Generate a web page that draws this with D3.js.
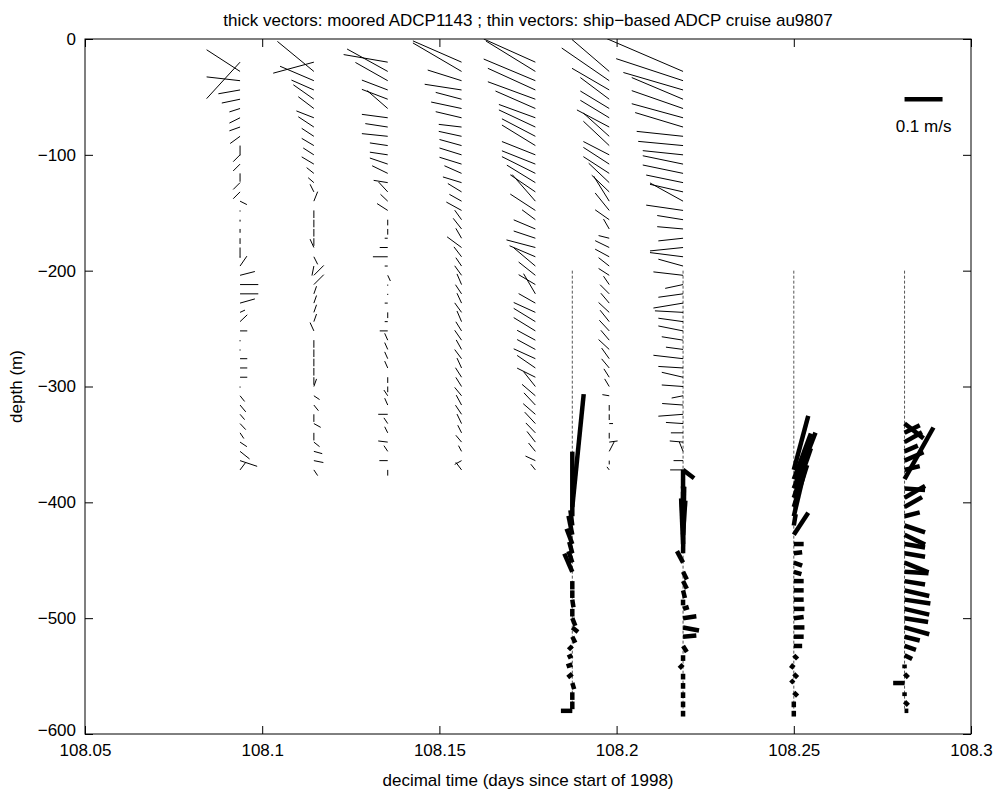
<!DOCTYPE html>
<html>
<head>
<meta charset="utf-8">
<script src="https://cdn.jsdelivr.net/npm/d3@7"></script>
<style>
  body { margin: 0; background: #fff; }
  text { font-family: "Liberation Sans", Arial, sans-serif; }
</style>
</head>
<body>
<div id="chart"></div>
<script>
// ship-based ADCP profiles (thin vectors), [u, v] in cm/s, one per depth bin
const shipTimes = [108.09375, 108.11458, 108.13542, 108.15625, 108.17708, 108.19792, 108.21875];
const shipDepths = [12, 20, 28, 36, 44, 52, 60, 68, 76, 84, 92, 100, 108, 116, 124, 132, 140, 148, 156, 164,
  172, 180, 188, 196, 204, 212, 220, 228, 236, 244, 252, 260, 268, 276, 284, 292, 300, 308, 316, 324,
  332, 340, 348, 356, 364, 372];

const ship1 = [null, [-8.8,-9.6], [-8.8,5.7], [-8.8,1.0], [-5.7,-1.0], [-4.8,-1.0], [-2.8,-0.9], [-2.8,-1.4], [-2.8,-1.0], [-2.6,-1.9],
  [0,-2.6], [-1.8,-1.8], [-1.8,-1.8], [0,-2.2], [-1.8,-1.8], [-1.8,-1.8], [1.8,-0.9], [0,-0.3], [0,-0.5], [0,-1],
  [0,-1.5], [0,-2.5], [0,-0.3], [1.8,2.6], [3.9,1.0], [4.8,0], [4.8,0], [3.9,1.1], [1.3,0.6], [1.9,1.8],
  [1.9,0], [0,-0.3], [0,-0.3], [1.9,0], [1.9,0], [1.9,0], [0,-0.3], [1.2,-1.5], [1.5,-1.8], [1.2,-1.4],
  [1.5,-1.6], [1.0,-1.5], [1.8,-1.2], [2.5,-2.0], [4.5,-1.5], [1.5,2.0]];
const ship2 = [null, [-10.7,-2.9], [-9.6,7.9], [-8.9,3.8], [-5.9,2.6], [-5.4,3.8], [-4.1,3.1], [-4.6,1.8], [-4.1,2.7], [-3.2,2.1],
  [-3.2,1.9], [-2.8,1.8], [-3.2,1.9], [-1.9,1.5], [-1.5,1.3], [-1.0,2.0], [1.0,2.5], [0,-2], [0,-2], [0,-2],
  [0,-2], [-1.0,2.2], [1.0,-2.0], [-0.5,-2.5], [2.6,2.6], [2.6,2.6], [0.7,2], [0.7,2], [0.7,2], [0.7,2],
  [-1.0,2.2], [0,-2], [0,-2], [0,-2], [0,-2], [0,-2], [0.7,2], [1.5,-1.0], [1.2,-1.5], [0,-2],
  [1.8,-1.0], [0,-2], [1.5,-1.2], [2.2,-0.6], [2.5,-0.5], [1.0,-1.5]];
const ship3 = [null, [-11.6,2.0], [-10.7,5.9], [-8.5,4.8], [-6.8,2.6], [-6.8,2.6], [-5.4,4.7], [-6.8,0.9], [-5.9,0.9], [-6.8,0.7],
  [-4.7,0.7], [-4.7,0.7], [-4.7,1.6], [-4.1,2.0], [-3.7,0.6], [-2.4,2.6], [-1.9,1.8], [-2.8,1.8], [0,-1.5], [0,-1.5],
  [-0.8,0], [-2.1,0], [-3.9,0], [-0.8,0], [0.7,-1.5], [0,-0.3], [0,-0.3], [-0.8,0], [0,-1.5], [-0.8,0],
  [-2.1,0], [-0.8,1.8], [-0.8,1.8], [-0.8,1.8], [-0.8,1.8], [0,-1.5], [0,-1.5], [-1.0,1.5], [-0.8,1.8], [-2.5,0],
  [-1.0,1.5], [-0.8,1.6], [-2.5,0.3], [-1.0,1.5], [-2.2,0], [0,-1.5]];
const ship4 = [null, [-12.8,5.6], [-12.8,7.5], [-8.9,2.8], [-9.7,1.5], [-6.8,1.8], [-8.0,1.7], [-6.8,1.6], [-6.0,0.7], [-6.0,1.3],
  [-5.8,1.6], [-5.8,1.8], [-5.8,1.8], [-4.5,2.0], [-4.9,1.5], [-3.6,2.2], [-3.2,1.8], [-4.0,2.2], [-1.8,2.5], [-2.2,2.8],
  [-1.5,2.6], [-3.8,2.8], [-2.0,2.6], [-1.5,2.2], [-1.8,2.5], [-1.2,2.8], [-1.6,2.4], [-1.2,2.6], [-1.8,2.5], [-1.2,2.8],
  [-1.5,2.4], [-1.8,2.6], [-1.4,2.5], [-1.8,2.4], [-1.2,2.6], [-1.6,2.5], [-1.5,2.4], [-1.8,2.2], [-1.4,2.6], [-1.6,2.4],
  [-1.2,2.5], [-1.0,2.0], [-1.5,1.8], [-0.8,1.5], [-1.8,-1.0], [-1.5,2.0]];
const ship5 = [null, [-13.6,6.1], [-13.0,8.0], [-13.6,5.7], [-12.5,5.7], [-12.5,4.6], [-10.5,4.6], [-9.6,3.5], [-9.6,4.5], [-8.8,4.6],
  [-8.8,5.4], [-8.8,3.5], [-8.8,3.5], [-8.8,4.4], [-7.5,4.6], [-6.6,4.5], [-6.1,7.0], [-6.6,4.3], [-3.5,2.6], [-5.7,2.4],
  [-5.7,1.9], [-7.6,2.0], [-6.8,2.9], [-5.7,4.8], [-4.4,3.5], [-4.4,2.6], [-3.1,5.3], [-4.4,2.5], [-5.7,2.6], [-5.7,3.5],
  [-5.7,3.5], [-4.8,2.6], [-4.8,2.6], [-5.7,2.6], [-4.8,3.3], [-4.8,2.4], [-3.1,3.9], [-3.5,3.0], [-3.0,3.2], [-3.2,2.8],
  [-2.8,3.0], [-2.5,2.6], [-2.2,2.8], [-1.8,2.2], [-2.6,1.2], [-1.2,1.5]];
const ship6 = [null, null, [-9.8,8.4], [-12.5,8.6], [-9.8,5.7], [-7.6,5.7], [-7.6,4.6], [-7.6,4.6], [-8.5,4.5], [-6.8,6.1],
  [-6.8,6.4], [-6.8,3.5], [-6.8,4.4], [-6.8,4.4], [-5.4,5.1], [-4.6,4.4], [-4.1,6.6], [-3.7,4.6], [-3.7,2.6], [-1.5,2.6],
  [-2.8,0.7], [-3.7,1.8], [-3.7,2.0], [-2.8,2.2], [-2.8,1.8], [-1.5,2.2], [-2.4,2.4], [-2.2,2.6], [-2.8,2.6], [-2.4,3.0],
  [-2.6,2.8], [-2.2,2.6], [-2.8,2.6], [-2.0,2.8], [-2.0,2.4], [-1.4,2.2], [-1.2,2.0], [-1.8,0.3], [0,-1.5], [0,-1.5],
  [1.0,0], [0,-1.5], [2.2,0.3], [1.3,2.5], [0,-1.0], [-0.6,0.8]];
const ship7 = [null, null, [-20.0,8.6], [-17.6,5.8], [-15.7,4.6], [-13.5,5.7], [-13.5,4.7], [-13.5,3.7], [-12.6,3.8], [-12.2,1.3],
  [-11.8,1.1], [-10.6,1.1], [-10.6,2.2], [-10.6,2.2], [-9.7,2.0], [-8.7,2.0], [-8.7,4.8], [-9.7,1.4], [-6.8,1.1], [-6.8,0.6],
  [-6.5,-0.7], [-8.7,-0.9], [-8.7,1.1], [-6.5,1.8], [-7.8,0.9], [-4.7,-1.0], [-6.5,-0.9], [-7.8,-1.3], [-7.4,0.4], [-6.5,0.9],
  [-6.5,1.3], [-5.6,0.9], [-4.5,0.6], [-7.8,0.9], [-6.5,0.4], [-5.6,1.3], [-5.6,0.4], [-3.0,-0.6], [-5.5,0.4], [-6.5,-0.5],
  [-4.5,0.3], [-3.2,0], [-3.5,0.3], [-1.0,2.5], [-2.5,0], [-3.4,0]];

// moored ADCP1143 profiles (thick vectors), [u, v] in cm/s
const mooringTimes = [108.1875, 108.21875, 108.25, 108.28125];
const mooringDepths = [300, 308, 316, 324, 332, 340, 348, 356, 364, 372, 380, 388, 396, 404, 412, 420, 428, 436,
  444, 452, 460, 468, 476, 484, 492, 500, 508, 516, 524, 532, 540, 548, 556, 564, 572, 580];

const mooring1 = [null, null, null, null, null, null, null, null, null, null, null, null, null, [3.0,29.7],
  [0,17], [-0.5,4], [-1,5], [-1.5,4], [-0.8,3], [-1,3], [-2.1,4.8], [0,-2.2], [0,-2], [0.3,-2], [0,-2], [0.8,-2],
  [1.5,-1.2], [0.8,-1.6], [-1,-1], [-1.2,-0.6], [-1.5,-0.5], [-1.2,-1], [0.5,-1.6], [0,-2], [0,-2], [-3,0]];
const mooring2 = [null, null, null, null, null, null, null, null, null, [2.9,-2.2], [0,2.5], [0,2.5], [0,3], [0,4],
  [0,5], [-0.4,7], [0.6,9], [-0.5,12], [0.3,17.5], [-1.6,3], [1,-2], [1,-2], [0.5,-2], [0,-1.5], [1.5,0.5], [3.5,0.5],
  [4.2,-0.8], [3.5,0.3], [1,-1.6], [0,-1.5], [-1,-1], [0,-1.5], [0,-1.5], [0,-1.5], [0,-1.5], [0,-1.5]];
const mooring3 = [null, null, null, null, null, null, null, null, null, [3.8,14.2], [4.5,12], [5.7,14.7], [4.5,13], [3.5,11],
  [2.8,12], [0.5,3], [3.8,5.8], [2.6,0], [2.2,0.3], [2.2,-0.8], [2.0,-0.6], [2.6,0], [2.6,0], [2.6,0], [2.8,0], [2.6,0.3],
  [2.8,0], [2.6,0], [2.2,0], [1,-1], [-0.8,-1], [1,-1], [-0.8,0.8], [1,-1], [0,-1.5], [0,-1.5]];
const mooring4 = [null, null, null, null, [5,-3.9], [4,2], [4.6,2.6], [3.5,1.5], [5,2.2], [4,1], [7.6,13.6], [5.4,-0.4], [5.4,3.1],
  [4.6,2.6], [4,1], [5.4,-1.8], [5.4,-2.6], [5.4,-0.9], [5.4,-0.9], [6.3,-2.6], [6.3,-0.4], [5.4,-0.9], [6.5,-1.5],
  [6.8,-1], [6.5,-1.5], [6.2,-1], [6.5,-1.8], [4,-1], [3,-1], [2,-1], [0,-1], [1,-1], [-3,0], [0,-1], [1,-1], [1,0]];

const xTicks = [108.05, 108.1, 108.15, 108.2, 108.25, 108.3];
const yTicks = [0, -100, -200, -300, -400, -500, -600];
const scaleSpeed = 10; // cm/s, the 0.1 m/s key

const W = 1000, H = 791;
const margin = {top: 39, right: 29, bottom: 57, left: 85};
const fs = 17;

const svg = d3.select("#chart").append("svg")
  .attr("width", W).attr("height", H)
  .style("display", "block");

const x = d3.scaleLinear().domain([108.05, 108.3]).range([margin.left, W - margin.right]);
const y = d3.scaleLinear().domain([-600, 0]).range([H - margin.bottom, margin.top]);
const spd = d3.scaleLinear().domain([0, 10]).range([0, 38]); // cm/s -> px

svg.append("clipPath").attr("id", "plot")
  .append("rect")
  .attr("x", margin.left).attr("y", margin.top)
  .attr("width", W - margin.left - margin.right)
  .attr("height", H - margin.top - margin.bottom);

const fmt = d => String(d).replace("-", "\u2212");

// axes, ticks inside like matlab
svg.append("g")
  .attr("transform", `translate(0,${H - margin.bottom})`)
  .call(d3.axisBottom(x).tickValues(xTicks).tickFormat(d => String(d)).tickSizeInner(-8).tickSizeOuter(0).tickPadding(10));
svg.append("g")
  .attr("transform", `translate(0,${margin.top})`)
  .call(d3.axisTop(x).tickValues(xTicks).tickFormat("").tickSizeInner(-8).tickSizeOuter(0));
svg.append("g")
  .attr("transform", `translate(${margin.left},0)`)
  .call(d3.axisLeft(y).tickValues(yTicks).tickFormat(fmt).tickSizeInner(-8).tickSizeOuter(0).tickPadding(9));
svg.append("g")
  .attr("transform", `translate(${W - margin.right},0)`)
  .call(d3.axisRight(y).tickValues(yTicks).tickFormat("").tickSizeInner(-8).tickSizeOuter(0));

svg.selectAll(".domain").remove();
svg.selectAll(".tick line").attr("stroke", "#000");
svg.selectAll(".tick text").attr("font-size", fs).attr("fill", "#000")
  .style("font-family", "'Liberation Sans', Arial, sans-serif");

// keep the corner labels apart
svg.selectAll(".tick text").filter(d => d === -600).attr("dy", "0.1em");

svg.append("rect")
  .attr("x", margin.left).attr("y", margin.top)
  .attr("width", W - margin.left - margin.right)
  .attr("height", H - margin.top - margin.bottom)
  .attr("fill", "none").attr("stroke", "#000").attr("stroke-width", 1);

const plot = svg.append("g").attr("clip-path", "url(#plot)");

// dotted guide lines under the mooring profiles
plot.selectAll(".guide")
  .data(mooringTimes)
  .enter().append("line")
  .attr("x1", d => x(d)).attr("x2", d => x(d))
  .attr("y1", y(-200)).attr("y2", y(-580))
  .attr("stroke", "#555").attr("stroke-width", 1)
  .attr("stroke-dasharray", "3,2");

function vectors(times, depths, cols, width, cls) {
  const segs = [];
  cols.forEach((col, i) => {
    col.forEach((uv, k) => {
      if (!uv) return;
      segs.push({t: times[i], z: depths[k], u: uv[0], v: uv[1]});
    });
  });
  plot.selectAll("." + cls)
    .data(segs)
    .enter().append("line")
    .attr("class", cls)
    .attr("x1", d => x(d.t))
    .attr("y1", d => y(-d.z))
    .attr("x2", d => x(d.t) + spd(d.u))
    .attr("y2", d => y(-d.z) - spd(d.v))
    .attr("stroke", "#000")
    .attr("stroke-width", width)
    .attr("stroke-linecap", "butt");
}

vectors(shipTimes, shipDepths, [ship1, ship2, ship3, ship4, ship5, ship6, ship7], 1, "thin");
vectors(mooringTimes, mooringDepths, [mooring1, mooring2, mooring3, mooring4], 4.5, "thick");

// scale key
const kx = x(108.28125), ky = y(-52);
svg.append("line")
  .attr("x1", kx).attr("y1", ky)
  .attr("x2", kx + spd(scaleSpeed)).attr("y2", ky)
  .attr("stroke", "#000").attr("stroke-width", 4.5);
svg.append("text")
  .attr("x", kx + spd(scaleSpeed) / 2).attr("y", y(-80))
  .attr("text-anchor", "middle")
  .attr("font-size", fs)
  .text("0.1 m/s");

// labels
svg.append("text")
  .attr("x", (margin.left + W - margin.right) / 2).attr("y", 26)
  .attr("text-anchor", "middle").attr("font-size", fs)
  .text("thick vectors: moored ADCP1143 ;   thin vectors: ship\u2212based ADCP cruise au9807");
svg.append("text")
  .attr("x", (margin.left + W - margin.right) / 2).attr("y", 786)
  .attr("text-anchor", "middle").attr("font-size", fs)
  .text("decimal time (days since start of 1998)");
svg.append("text")
  .attr("transform", `translate(22,${(margin.top + H - margin.bottom) / 2}) rotate(-90)`)
  .attr("text-anchor", "middle").attr("font-size", fs)
  .text("depth (m)");
</script>
</body>
</html>
